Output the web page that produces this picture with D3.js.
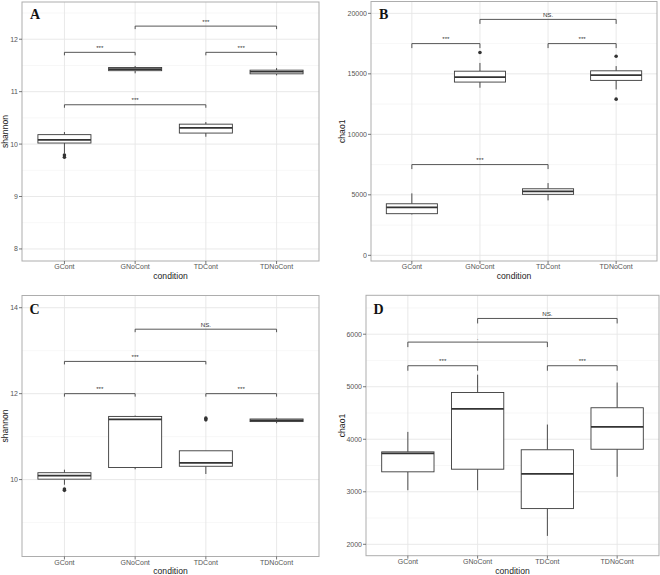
<!DOCTYPE html>
<html><head><meta charset="utf-8">
<script src="https://cdn.jsdelivr.net/npm/d3@7"></script>
<style>
body{margin:0;background:#fff}
svg{display:block}
text{font-family:"Liberation Sans",Arial,sans-serif}
text.tag{font-family:"Liberation Serif","Times New Roman",serif;font-weight:bold}
</style>
</head><body>
<svg id="chart" width="660" height="575"></svg>
<script>
const categories = ["GCont", "GNoCont", "TDCont", "TDNoCont"];

// Panel A - shannon
const aLower   = [9.82, 11.35, 10.14, 11.31];
const aQ1      = [10.02, 11.40, 10.21, 11.34];
const aMedian  = [10.08, 11.43, 10.31, 11.38];
const aQ3      = [10.18, 11.46, 10.38, 11.41];
const aUpper   = [10.23, 11.49, 10.42, 11.45];
const aOutliers = [[9.79, 9.75], [], [], []];
const aTicks = [8, 9, 10, 11, 12];
const aSig = [
  ["GCont", "GNoCont", 11.75, "***"],
  ["TDCont", "TDNoCont", 11.75, "***"],
  ["GNoCont", "TDNoCont", 12.25, "***"],
  ["GCont", "TDCont", 10.75, "***"]
];

// Panel B - chao1
const bLower   = [3380, 13850, 4540, 13710];
const bQ1      = [3440, 14320, 5040, 14460];
const bMedian  = [3970, 14730, 5290, 14890];
const bQ3      = [4260, 15220, 5500, 15250];
const bUpper   = [5120, 15900, 5970, 15640];
const bOutliers = [[], [16770], [], [16460, 12910]];
const bTicks = [0, 5000, 10000, 15000, 20000];
const bSig = [
  ["GCont", "GNoCont", 17500, "***"],
  ["TDCont", "TDNoCont", 17500, "***"],
  ["GNoCont", "TDNoCont", 19500, "NS."],
  ["GCont", "TDCont", 7500, "***"]
];

// Panel C - shannon
const cLower   = [9.88, 10.24, 10.13, 11.31];
const cQ1      = [10.01, 10.28, 10.31, 11.35];
const cMedian  = [10.09, 11.40, 10.39, 11.38];
const cQ3      = [10.16, 11.47, 10.67, 11.41];
const cUpper   = [10.23, 11.49, 10.67, 11.44];
const cOutliers = [[9.78, 9.75], [], [11.43, 11.39], []];
const cTicks = [10, 12, 14];
const cSig = [
  ["GCont", "GNoCont", 12.0, "***"],
  ["TDCont", "TDNoCont", 12.0, "***"],
  ["GCont", "TDCont", 12.75, "***"],
  ["GNoCont", "TDNoCont", 13.5, "NS."]
];

// Panel D - chao1
const dLower   = [3030, 3030, 2160, 3285];
const dQ1      = [3380, 3430, 2680, 3810];
const dMedian  = [3730, 4580, 3340, 4235];
const dQ3      = [3760, 4890, 3800, 4600];
const dUpper   = [4140, 5230, 4280, 5080];
const dOutliers = [[], [], [], []];
const dTicks = [2000, 3000, 4000, 5000, 6000];
const dSig = [
  ["GCont", "GNoCont", 5400, "***"],
  ["TDCont", "TDNoCont", 5400, "***"],
  ["GCont", "TDCont", 5850, "."],
  ["GNoCont", "TDNoCont", 6300, "NS."]
];

const svg = d3.select("#chart");

function panel(cfg) {
  const {left, right, top, bottom, domain, ticks, yTitle, tag, tagDx, tagDy, titleX,
         lower, q1, median, q3, upper, outliers, sig, tip} = cfg;
  const x = d3.scalePoint().domain(categories).range([left, right]).padding(0.6);
  const y = d3.scaleLinear().domain(domain).range([bottom, top]);
  const g = svg.append("g");
  const step = x.step();
  const bw = step * 0.75;

  // minor grid
  const st = ticks[1] - ticks[0];
  const minors = [];
  for (let i = -1; i < ticks.length; i++) {
    const v = ticks[0] + st * (i + 0.5);
    if (v > domain[0] && v < domain[1]) minors.push(v);
  }
  g.selectAll(".minor").data(minors).join("line")
    .attr("x1", left).attr("x2", right)
    .attr("y1", d => y(d)).attr("y2", d => y(d))
    .attr("stroke", "#f2f2f2").attr("stroke-width", 0.6);
  g.selectAll(".major").data(ticks).join("line")
    .attr("x1", left).attr("x2", right)
    .attr("y1", d => y(d)).attr("y2", d => y(d))
    .attr("stroke", "#e6e6e6").attr("stroke-width", 0.9);
  g.selectAll(".vmajor").data(categories).join("line")
    .attr("x1", d => x(d)).attr("x2", d => x(d))
    .attr("y1", top).attr("y2", bottom)
    .attr("stroke", "#e6e6e6").attr("stroke-width", 0.9);

  // boxes
  const col = "#3a3a3a";
  categories.forEach((c, i) => {
    const cx = x(c);
    g.append("line").attr("x1", cx).attr("x2", cx)
      .attr("y1", y(upper[i])).attr("y2", y(q3[i]))
      .attr("stroke", col).attr("stroke-width", 0.9);
    g.append("line").attr("x1", cx).attr("x2", cx)
      .attr("y1", y(q1[i])).attr("y2", y(lower[i]))
      .attr("stroke", col).attr("stroke-width", 0.9);
    g.append("rect").attr("x", cx - bw / 2).attr("width", bw)
      .attr("y", y(q3[i])).attr("height", Math.max(0.5, y(q1[i]) - y(q3[i])))
      .attr("fill", "#fff").attr("stroke", col).attr("stroke-width", 0.9);
    g.append("line").attr("x1", cx - bw / 2).attr("x2", cx + bw / 2)
      .attr("y1", y(median[i])).attr("y2", y(median[i]))
      .attr("stroke", "#333").attr("stroke-width", 1.7);
    outliers[i].forEach(o => {
      g.append("circle").attr("cx", cx).attr("cy", y(o)).attr("r", 1.8).attr("fill", "#333");
    });
  });

  // significance brackets
  sig.forEach(([a, b, v, lab]) => {
    const x1 = x(a), x2 = x(b), yy = y(v);
    g.append("path")
      .attr("d", `M${x1},${yy + tip}V${yy}H${x2}V${yy + tip}`)
      .attr("fill", "none").attr("stroke", "#444").attr("stroke-width", 0.9);
    g.append("text").attr("x", (x1 + x2) / 2).attr("y", yy - 2.5)
      .attr("text-anchor", "middle").attr("font-size", 6.2).attr("fill", "#333")
      .text(lab);
  });

  // border
  g.append("rect").attr("x", left).attr("y", top)
    .attr("width", right - left).attr("height", bottom - top)
    .attr("fill", "none").attr("stroke", "#adadad").attr("stroke-width", 1);

  // y axis ticks
  ticks.forEach(t => {
    g.append("line").attr("x1", left - 3).attr("x2", left)
      .attr("y1", y(t)).attr("y2", y(t)).attr("stroke", "#555").attr("stroke-width", 0.8);
    g.append("text").attr("x", left - 4).attr("y", y(t)).attr("dy", "0.35em")
      .attr("text-anchor", "end").attr("font-size", 7).attr("fill", "#555").text(t);
  });
  // x axis ticks
  categories.forEach(c => {
    g.append("line").attr("x1", x(c)).attr("x2", x(c))
      .attr("y1", bottom).attr("y2", bottom + 3).attr("stroke", "#555").attr("stroke-width", 0.8);
    g.append("text").attr("x", x(c)).attr("y", bottom + 8.3)
      .attr("text-anchor", "middle").attr("font-size", 7).attr("fill", "#555").text(c);
  });
  // titles
  g.append("text").attr("x", (left + right) / 2).attr("y", Math.min(bottom + 18, 573.5))
    .attr("text-anchor", "middle").attr("font-size", 8.6).attr("fill", "#222").text("condition");
  g.append("text").attr("transform", `translate(${titleX},${(top + bottom) / 2}) rotate(-90)`)
    .attr("text-anchor", "middle").attr("font-size", 8.6).attr("fill", "#222").text(yTitle);
  // tag
  g.append("text").attr("class", "tag").attr("x", left + tagDx).attr("y", top + tagDy)
    .attr("font-size", 14).attr("fill", "#111").text(tag);
}

panel({left: 22, right: 319, top: 2, bottom: 261, domain: [7.77, 12.71], ticks: aTicks,
  yTitle: "shannon", tag: "A", tagDx: 8, tagDy: 16.5, titleX: 8, tip: 3,
  lower: aLower, q1: aQ1, median: aMedian, q3: aQ3, upper: aUpper, outliers: aOutliers, sig: aSig});
panel({left: 371, right: 657, top: 1.5, bottom: 261, domain: [-470, 20980], ticks: bTicks,
  yTitle: "chao1", tag: "B", tagDx: 8, tagDy: 17.5, titleX: 345, tip: 4.5,
  lower: bLower, q1: bQ1, median: bMedian, q3: bQ3, upper: bUpper, outliers: bOutliers, sig: bSig});
panel({left: 22, right: 319, top: 295.5, bottom: 556.5, domain: [8.21, 14.284], ticks: cTicks,
  yTitle: "shannon", tag: "C", tagDx: 7.5, tagDy: 18, titleX: 8, tip: 3,
  lower: cLower, q1: cQ1, median: cMedian, q3: cQ3, upper: cUpper, outliers: cOutliers, sig: cSig});
panel({left: 366, right: 659, top: 295.3, bottom: 555.7, domain: [1783, 6741], ticks: dTicks,
  yTitle: "chao1", tag: "D", tagDx: 7.5, tagDy: 18.5, titleX: 345, tip: 5,
  lower: dLower, q1: dQ1, median: dMedian, q3: dQ3, upper: dUpper, outliers: dOutliers, sig: dSig});
</script>
</body></html>
